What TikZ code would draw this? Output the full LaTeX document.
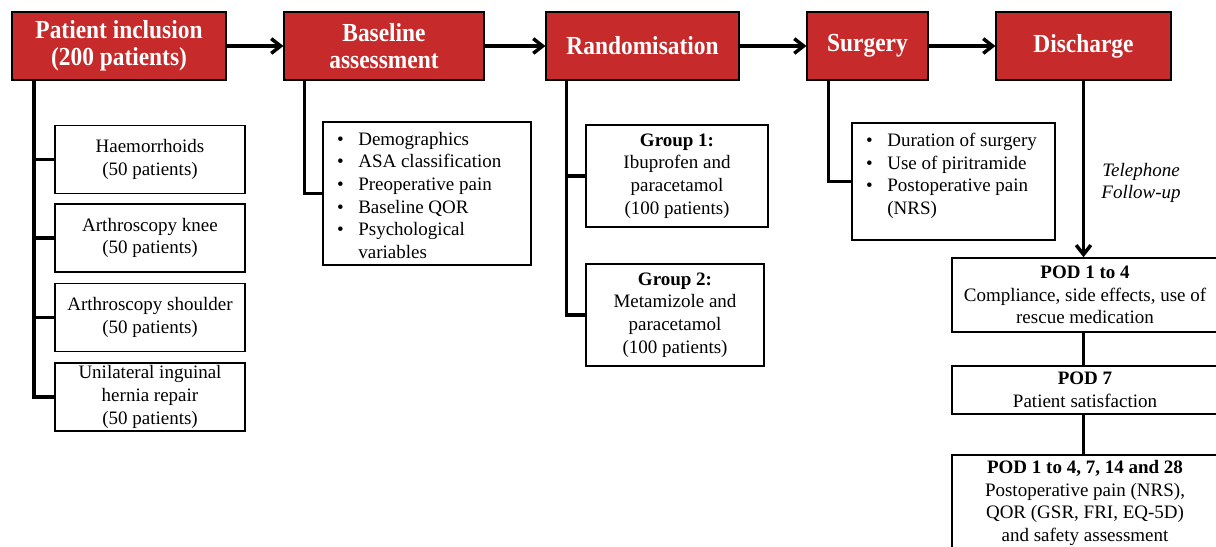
\documentclass[tikz,border=0pt]{standalone}
\usepackage{fontspec}
\usetikzlibrary{arrows.meta}
\setmainfont{Liberation Serif}
\newfontfamily\stagefont[FakeStretch=0.9]{Liberation Serif}
\definecolor{stagered}{RGB}{198,42,42}
\newcommand{\bul}{\textbullet\hspace{11pt}}
\newcommand{\nobul}{\phantom{\textbullet}\hspace{11pt}}

\begin{document}
\begin{tikzpicture}[x=0.75pt,y=-0.75pt,line width=2.6pt,>={Straight Barb[length=7pt,width=11pt]},
stagebox/.style={draw=black,line width=0.9pt,fill=stagered,text=white,align=center,inner sep=2pt,minimum height=51pt,font=\stagefont\bfseries\fontsize{19.5}{20.5}\selectfont},
infobox/.style={draw,line width=1.1pt,align=center,inner sep=1pt,font=\fontsize{14.25}{17}\selectfont},
listbox/.style={draw,line width=1.1pt,inner xsep=10.5pt,inner ysep=7.5pt,font=\fontsize{14.25}{17}\selectfont}]

\useasboundingbox (0,0) rectangle (1216,546);

% stages
\draw (119,46) node[stagebox,minimum width=160.5pt] (pi) {Patient inclusion\\(200 patients)};
\draw (384,46) node[stagebox,minimum width=150pt] (ba) {Baseline\\assessment};
\draw (642.5,46) node[stagebox,minimum width=144.75pt] (ra) {Randomisation};
\draw (867.5,46) node[stagebox,minimum width=90.75pt] (su) {Surgery};
\draw (1083.5,46) node[stagebox,minimum width=131.25pt] (di) {Discharge};

% patient groups
\draw (150,159.5) node[infobox,minimum width=142.5pt,minimum height=51pt] (h1) {Haemorrhoids\\(50 patients)};
\draw (150,238) node[infobox,minimum width=142.5pt,minimum height=51pt] (h2) {Arthroscopy knee\\(50 patients)};
\draw (150,317.5) node[infobox,minimum width=142.5pt,minimum height=51pt] (h3) {Arthroscopy shoulder\\(50 patients)};
\draw (150,397) node[infobox,minimum width=142.5pt,minimum height=51pt] (h4) {Unilateral inguinal\\hernia repair\\(50 patients)};

% baseline items
\draw (427,193.5) node[listbox] (bl) {\parbox[c][92.25pt][t]{135pt}{\raggedright
\bul Demographics\\
\bul ASA classification\\
\bul Preoperative pain\\
\bul Baseline QOR\\
\bul Psychological\\
\nobul variables}};

% treatment arms
\draw (677,176) node[infobox,minimum width=136.5pt,minimum height=76.5pt] (g1) {\textbf{Group 1:}\\Ibuprofen and\\paracetamol\\(100 patients)};
\draw (675,315) node[infobox,minimum width=133.5pt,minimum height=76.5pt] (g2) {\textbf{Group 2:}\\Metamizole and\\paracetamol\\(100 patients)};

% surgery items
\draw (953.5,181.5) node[listbox] (sl) {\parbox[c][72.75pt][t]{131.25pt}{\raggedright
\bul Duration of surgery\\
\bul Use of piritramide\\
\bul Postoperative pain\\
\nobul (NRS)}};

% follow-up
\draw (1085,295) node[infobox,minimum width=199.5pt,minimum height=55.5pt] (p1) {\textbf{POD 1 to 4}\\Compliance, side effects, use of\\rescue medication};
\draw (1085,390) node[infobox,minimum width=199.5pt,minimum height=36pt] (p2) {\textbf{POD 7}\\Patient satisfaction};
\draw (1085,503) node[infobox,minimum width=199.5pt,minimum height=72pt] (p3) {\textbf{POD 1 to 4, 7, 14 and 28}\\Postoperative pain (NRS),\\QOR (GSR, FRI, EQ-5D)\\and safety assessment};
\draw (1141,183) node[font=\itshape\fontsize{14.25}{16.5}\selectfont,align=center] (tel) {Telephone\\Follow-up};

\draw[->] (pi.east) -- (ba.west);
\draw[->] (ba.east) -- (ra.west);
\draw[->] (ra.east) -- (su.west);
\draw[->] (su.east) -- (di.west);

\foreach \n in {h1,h2,h3,h4}
  \draw ([xshift=17pt]pi.south west) |- (\n.west);
\draw ([xshift=16pt]ba.south west) |- (bl.west);
\foreach \n in {g1,g2}
  \draw ([xshift=16pt]ra.south west) |- (\n.west);
\draw ([xshift=16.5pt]su.south west) |- (sl.west);

\draw[->] (di.south) -- (di.south |- p1.north);
\draw (p1.south -| di.south) -- (p2.north -| di.south);
\draw (p2.south -| di.south) -- (p3.north -| di.south);

\end{tikzpicture}
\end{document}
